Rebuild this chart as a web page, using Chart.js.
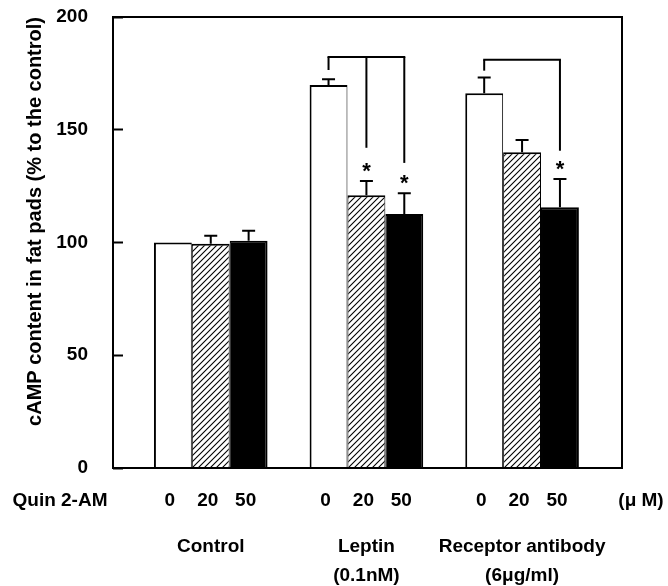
<!DOCTYPE html>
<html>
<head>
<meta charset="utf-8">
<script src="https://cdn.jsdelivr.net/npm/chart.js@4.4.1/dist/chart.umd.min.js"></script>
<style>
  html, body { margin: 0; padding: 0; background: #fff; }
</style>
</head>
<body>
<canvas id="camp" width="668" height="586"></canvas>
<script>
// groups on the x axis, Quin 2-AM doses inside each group
const groups = ['Control', ['Leptin', '(0.1nM)'], ['Receptor antibody', '(6\u03bcg/ml)']];
const doses = ['0', '20', '50'];

// cAMP content in fat pads (% to the control)
const dose0 = [100, 169.8, 166.2];
const dose20 = [99.5, 121.0, 140.0];
const dose50 = [100.8, 112.6, 115.6];

// upper error bars
const err0 = [0, 2.6, 7.0];
const err20 = [3.5, 6.3, 5.5];
const err50 = [4.4, 9.2, 12.6];

// significance marks (*)
const sig20 = [false, true, false];
const sig50 = [false, true, true];

// comparison brackets (group, top line value, leg end value per dose)
const bracketGroups = [1, 2];
const bracketTop = [182.3, 181.0];
const bracketLegs = [[176.5, 142.0, 135.3], [176.2, null, 140.7]];

const FONT = "'Liberation Sans Narrow', 'Arial Narrow', 'Liberation Sans', Arial, sans-serif";

function makeHatch() {
    const c = document.createElement('canvas');
    c.width = 6; c.height = 6;
    const g = c.getContext('2d');
    g.fillStyle = '#fff';
    g.fillRect(0, 0, 6, 6);
    g.strokeStyle = '#000';
    g.lineWidth = 1.1;
    g.beginPath();
    g.moveTo(0, 6); g.lineTo(6, 0);
    g.moveTo(-1, 1); g.lineTo(1, -1);
    g.moveTo(5, 7); g.lineTo(7, 5);
    g.stroke();
    return g.createPattern(c, 'repeat');
}

const allVals = [dose0, dose20, dose50];
const allErrs = [err0, err20, err50];
const allSig = [null, sig20, sig50];

// keep tick padding from shrinking the plot area
function noPad(s) {
    s.paddingTop = 0;
    s.paddingBottom = 0;
    s.paddingLeft = 0;
    s.paddingRight = 0;
}

// error bars, stars, brackets
const marks = {
    id: 'marks',
    afterDatasetsDraw(chart) {
        const { ctx } = chart;
        const y = chart.scales.y;
        ctx.save();
        ctx.strokeStyle = '#000';
        ctx.fillStyle = '#000';
        ctx.lineWidth = 2;
        allVals.forEach((vals, d) => {
            const meta = chart.getDatasetMeta(d);
            meta.data.forEach((bar, i) => {
                const e = allErrs[d][i];
                if (!e) return;
                const top = y.getPixelForValue(vals[i] + e);
                ctx.beginPath();
                ctx.moveTo(bar.x, bar.y);
                ctx.lineTo(bar.x, top);
                ctx.moveTo(bar.x - 6.5, top);
                ctx.lineTo(bar.x + 6.5, top);
                ctx.stroke();
                if (allSig[d] && allSig[d][i]) {
                    ctx.font = 'bold 22px ' + FONT;
                    ctx.textAlign = 'center';
                    ctx.textBaseline = 'alphabetic';
                    ctx.fillText('*', bar.x, top - 3);
                }
            });
        });
        bracketGroups.forEach((g, k) => {
            const yt = y.getPixelForValue(bracketTop[k]);
            const legs = bracketLegs[k];
            let xs = [];
            legs.forEach((v, d) => {
                if (v === null) return;
                const bx = chart.getDatasetMeta(d).data[g].x;
                xs.push(bx);
                ctx.beginPath();
                ctx.moveTo(bx, yt);
                ctx.lineTo(bx, y.getPixelForValue(v));
                ctx.stroke();
            });
            ctx.beginPath();
            ctx.moveTo(Math.min(...xs) - 1, yt);
            ctx.lineTo(Math.max(...xs) + 1, yt);
            ctx.stroke();
        });
        ctx.restore();
    },
    afterDraw(chart) {
        const { ctx, chartArea } = chart;
        ctx.save();
        // frame
        ctx.strokeStyle = '#000';
        ctx.lineWidth = 2;
        ctx.strokeRect(chartArea.left, chartArea.top, chartArea.right - chartArea.left, chartArea.bottom - chartArea.top);
        // dose row
        const rowY = chartArea.bottom + 33;
        ctx.fillStyle = '#000';
        ctx.font = 'bold 19px ' + FONT;
        ctx.textBaseline = 'middle';
        ctx.textAlign = 'center';
        allVals.forEach((vals, d) => {
            chart.getDatasetMeta(d).data.forEach(bar => {
                ctx.fillText(doses[d], bar.x - 3, rowY);
            });
        });
        ctx.fillText('Quin 2-AM', 60, rowY);
        ctx.fillText('(\u03bc M)', 641, rowY);
        ctx.restore();
    }
};

const hatch = makeHatch();
const fills = ['#fff', hatch, '#000'];
const sides = [{ top: 2, left: 2, right: 1, bottom: 0 }, { top: 2, left: 1, right: 1, bottom: 0 }, { top: 2, left: 1, right: 2, bottom: 0 }];

new Chart(document.getElementById('camp').getContext('2d'), {
    type: 'bar',
    data: {
        datasets: allVals.map((vals, d) => ({
            label: doses[d] + ' \u03bcM',
            data: vals.map((v, i) => ({ x: i, y: v })),
            backgroundColor: fills[d],
            borderColor: '#000',
            borderWidth: sides[d],
            borderSkipped: false,
            categoryPercentage: 0.73,
            barPercentage: 1.0
        }))
    },
    options: {
        responsive: false,
        animation: false,
        devicePixelRatio: 1,
        layout: { padding: { top: 17, right: 46, left: 0, bottom: 0 } },
        plugins: { legend: { display: false }, tooltip: { enabled: false } },
        scales: {
            x: {
                type: 'linear',
                min: -0.628,
                max: 2.642,
                offset: false,
                afterBuildTicks: s => { s.ticks = groups.map((g, i) => ({ value: i })); },
                afterFit: s => { s.height = 118; noPad(s); },
                grid: { display: false, drawTicks: false },
                border: { display: false },
                ticks: {
                    autoSkip: false,
                    maxRotation: 0,
                    padding: 64,
                    color: '#000',
                    font: { family: FONT, size: 19, weight: 'bold', lineHeight: 1.55 },
                    callback: (v, i) => groups[i]
                }
            },
            y: {
                min: 0,
                max: 200,
                afterFit: s => { s.width = 113; noPad(s); },
                grid: { drawOnChartArea: false, drawTicks: true, tickLength: -10, tickWidth: 2, color: '#000' },
                border: { display: false },
                ticks: {
                    stepSize: 50,
                    padding: 35,
                    color: '#000',
                    font: { family: FONT, size: 19, weight: 'bold' }
                },
                title: {
                    display: true,
                    text: 'cAMP content in fat pads (% to the control)',
                    align: 'end',
                    color: '#000',
                    padding: { top: 23 },
                    font: { family: FONT, size: 20, weight: 'bold' }
                }
            }
        }
    },
    plugins: [marks]
});
</script>
</body>
</html>
